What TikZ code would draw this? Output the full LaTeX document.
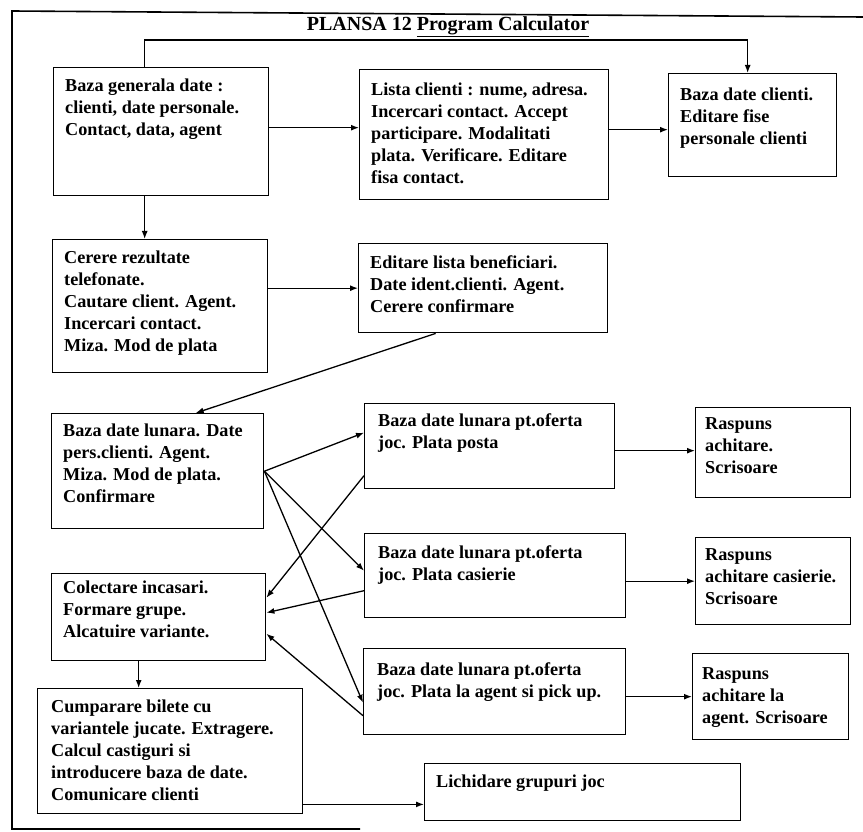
\documentclass[tikz,border=0pt]{standalone}
\usepackage{fontspec}
\setmainfont{Liberation Serif}
\usetikzlibrary{arrows.meta}
\begin{document}
\begin{tikzpicture}[x=1pt,y=-1pt,
  bx/.style={draw, line width=1.4pt, anchor=north west, inner sep=0pt},
  tx/.style={anchor=north west, align=left, inner sep=0pt, font=\bfseries\fontsize{18.2}{22}\selectfont},
  arr/.style={line width=1.3pt, -{Latex[length=8pt,width=6pt]}},
  frame/.style={line width=1.6pt}
]
\useasboundingbox[fill=white] (0,0) rectangle (863,832);
% frame
\draw[frame] (360,829) -- (12,829) -- (12,11) -- (863,17);
\node[font=\bfseries\fontsize{20}{22}\selectfont, inner sep=0pt] (T) at (448,27) {PLANSA 12 \underline{Program Calculator}};
% boxes
\node[bx, minimum width=215, minimum height=128] (A) at (53,67) {};
\node[bx, minimum width=249, minimum height=130] (B) at (359,69) {};
\node[bx, minimum width=168, minimum height=103] (C) at (668,73) {};
\node[bx, minimum width=215, minimum height=133] (D) at (52,239) {};
\node[bx, minimum width=249, minimum height=89] (E) at (358,243) {};
\node[bx, minimum width=212, minimum height=115] (F) at (51,413) {};
\node[bx, minimum width=250, minimum height=85] (G) at (364,403) {};
\node[bx, minimum width=155, minimum height=90] (H) at (695,407) {};
\node[bx, minimum width=261, minimum height=84] (I) at (364,533) {};
\node[bx, minimum width=155, minimum height=87] (J) at (695,537) {};
\node[bx, minimum width=214, minimum height=87] (K) at (51,573) {};
\node[bx, minimum width=262, minimum height=86] (L) at (363,648) {};
\node[bx, minimum width=156, minimum height=86] (M) at (692,653) {};
\node[bx, minimum width=265, minimum height=125] (N) at (37,688) {};
\node[bx, minimum width=316, minimum height=57] (O) at (424,763) {};
% texts
\node[tx] (At) at ([shift={(12,12)}]A.north west) {Baza generala date :\\clienti, date personale.\\Contact, data, agent};
\node[tx] (Bt) at ([shift={(12,14)}]B.north west) {Lista clienti : nume, adresa.\\Incercari contact. Accept\\participare. Modalitati\\plata. Verificare. Editare\\fisa contact.};
\node[tx] (Ct) at ([shift={(12,15)}]C.north west) {Baza date clienti.\\Editare fise\\personale clienti};
\node[tx] (Dt) at ([shift={(12,12)}]D.north west) {Cerere rezultate\\telefonate.\\Cautare client. Agent.\\Incercari contact.\\Miza. Mod de plata};
\node[tx] (Et) at ([shift={(12,12)}]E.north west) {Editare lista beneficiari.\\Date ident.clienti. Agent.\\Cerere confirmare};
\node[tx] (Ft) at ([shift={(12,11)}]F.north west) {Baza date lunara. Date\\pers.clienti. Agent.\\Miza. Mod de plata.\\Confirmare};
\node[tx] (Gt) at ([shift={(14,10)}]G.north west) {Baza date lunara pt.oferta\\joc. Plata posta};
\node[tx] (Ht) at ([shift={(10,10)}]H.north west) {Raspuns\\achitare.\\Scrisoare};
\node[tx] (It) at ([shift={(14,12)}]I.north west) {Baza date lunara pt.oferta\\joc. Plata casierie};
\node[tx] (Jt) at ([shift={(10,11)}]J.north west) {Raspuns\\achitare casierie.\\Scrisoare};
\node[tx] (Kt) at ([shift={(12,8)}]K.north west) {Colectare incasari.\\Formare grupe.\\Alcatuire variante.};
\node[tx] (Lt) at ([shift={(14,14)}]L.north west) {Baza date lunara pt.oferta\\joc. Plata la agent si pick up.};
\node[tx] (Mt) at ([shift={(10,14)}]M.north west) {Raspuns\\achitare la\\agent. Scrisoare};
\node[tx] (Nt) at ([shift={(14,12)}]N.north west) {Cumparare bilete cu\\variantele jucate. Extragere.\\Calcul castiguri si\\introducere baza de date.\\Comunicare clienti};
\node[tx] (Ot) at ([shift={(12,12)}]O.north west) {Lichidare grupuri joc};
% connectors
\draw[arr] ([xshift=-16.5]A.north) -- ++(0,-27) -| ([xshift=-5]C.north);
\draw[arr] ([yshift=4]A.east) -- ([yshift=4]A.east -| B.west);
\draw[arr] ([yshift=5]B.east) -- ([yshift=5]B.east -| C.west);
\draw[arr] ([xshift=-16.5]A.south) -- ([xshift=-16.5]A.south |- D.north);
\draw[arr] (E.west -| D.east) -- (E.west);
\draw[arr] ([xshift=-47.5]E.south) -- ([xshift=38]F.north);
\draw[arr] ([yshift=-4.5]G.east) -- ([yshift=-4.5]G.east -| H.west);
\draw[arr] (J.west -| I.east) -- (J.west);
\draw[arr] (M.west -| L.east) -- (M.west);
\draw[arr] ([xshift=-20]K.south) -- ([xshift=-20]K.south |- N.north);
\draw[arr] ([yshift=10]N.south east) -- ([yshift=10]N.south east -| O.west);
\draw[arr] (F.east) -- ([yshift=13.5]G.west);
\draw[arr] (F.east) -- ([yshift=5]I.west);
\draw[arr] (F.east) -- ([yshift=-11]L.west);
\draw[arr] ([yshift=-29.5]G.west) -- ([yshift=19.5]K.east);
\draw[arr] ([yshift=-15]I.west) -- ([yshift=4.5]K.east);
\draw[arr] ([yshift=-24]L.west) -- ([yshift=-16.5]K.east);
\end{tikzpicture}
\end{document}
